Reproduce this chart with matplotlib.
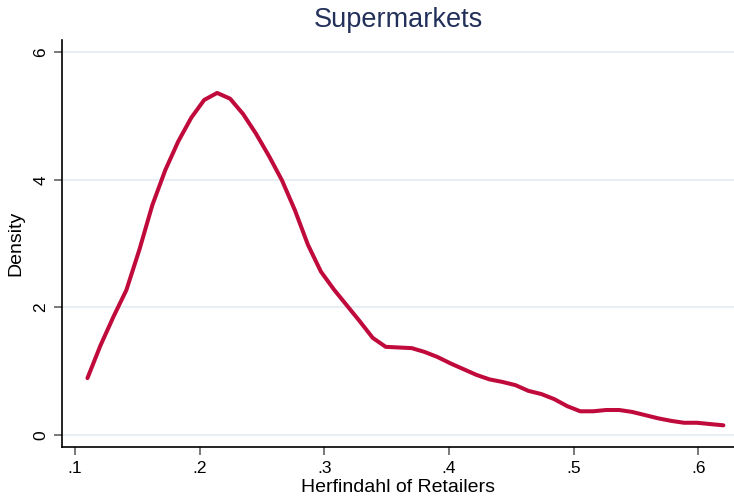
import matplotlib.pyplot as plt

# Kernel density estimate of retailer concentration, supermarkets
hhi = [0.110, 0.1204, 0.1308, 0.1412, 0.1516, 0.1620, 0.1724, 0.1828, 0.1932, 0.2036,
       0.2140, 0.2244, 0.2348, 0.2452, 0.2556, 0.2660, 0.2764, 0.2868, 0.2972, 0.3076,
       0.3180, 0.3284, 0.3388, 0.3492, 0.3596, 0.3700, 0.3804, 0.3908, 0.4012, 0.4116,
       0.4220, 0.4324, 0.4428, 0.4532, 0.4636, 0.4740, 0.4844, 0.4948, 0.5052, 0.5156,
       0.5260, 0.5364, 0.5468, 0.5572, 0.5676, 0.5780, 0.5884, 0.5988, 0.6092, 0.6200]
density = [0.89, 1.40, 1.85, 2.27, 2.90, 3.60, 4.15, 4.60, 4.97, 5.25,
           5.36, 5.27, 5.03, 4.72, 4.37, 3.99, 3.52, 2.98, 2.56, 2.28,
           2.03, 1.78, 1.52, 1.38, 1.37, 1.36, 1.30, 1.22, 1.12, 1.03,
           0.94, 0.87, 0.83, 0.78, 0.69, 0.64, 0.56, 0.45, 0.37, 0.37,
           0.39, 0.39, 0.36, 0.31, 0.26, 0.22, 0.19, 0.19, 0.17, 0.15]

x_ticks = [0.1, 0.2, 0.3, 0.4, 0.5, 0.6]
x_labels = ['.1', '.2', '.3', '.4', '.5', '.6']
y_ticks = [0, 2, 4, 6]

plt.rcParams['font.family'] = ['Liberation Sans', 'DejaVu Sans']

fig = plt.figure(figsize=(7.34, 4.98), dpi=100)
ax = fig.add_axes([0.0845, 0.1024, 0.9155, 0.8173])

ax.plot(hhi, density, color='#c00a3c', linewidth=2.9, solid_capstyle='round',
        solid_joinstyle='round', zorder=3)

ax.set_xlim(0.0896, 0.6285)
ax.set_ylim(-0.19, 6.19)

ax.set_xticks(x_ticks)
ax.set_xticklabels(x_labels)
ax.set_yticks(y_ticks)
ax.set_yticklabels([str(v) for v in y_ticks], rotation=90, va='center')

ax.grid(axis='y', color='#e8eef4', linewidth=1.6, zorder=0)
ax.set_axisbelow(True)

for side in ['top', 'right']:
    ax.spines[side].set_visible(False)
for side in ['left', 'bottom']:
    ax.spines[side].set_linewidth(1.2)
    ax.spines[side].set_color('black')

ax.tick_params(axis='both', direction='out', length=6, width=1.1,
               color='#555555', labelsize=12.5, pad=4)

ax.set_xlabel('Herfindahl of Retailers', fontsize=14, labelpad=2)
ax.set_ylabel('Density', fontsize=14, labelpad=6)
ax.set_title('Supermarkets', fontsize=19.5, color='#22305a', pad=9)

fig.savefig('out.png', dpi=100)
